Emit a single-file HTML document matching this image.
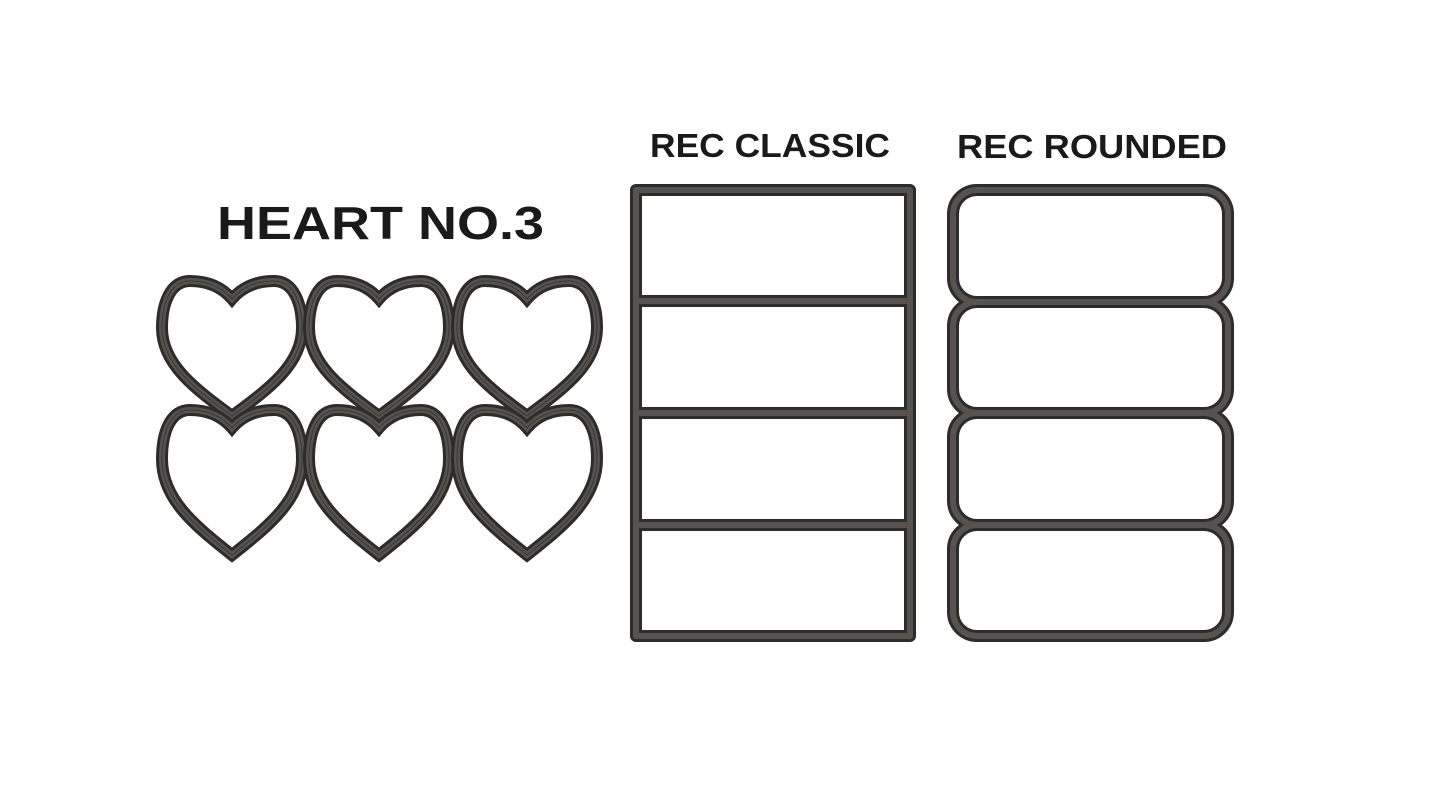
<!DOCTYPE html>
<html><head><meta charset="utf-8"><style>
html,body{margin:0;padding:0;background:#fff;}
svg{display:block;}
text{font-family:"Liberation Sans",sans-serif;font-weight:bold;fill:#1a1a1a;}
</style></head><body>
<svg width="1445" height="803" viewBox="0 0 1445 803">
<defs>
<path id="h" d="M0,17 C-12,3 -28,-1 -42,-1 C-62,-1 -70,22 -70,46 C-70,82 -38,106 0,134 C38,106 70,82 70,46 C70,22 62,-1 42,-1 C28,-1 12,3 0,17 Z"/>
<path id="h2" d="M0,17 C-12,3 -28,-1 -42,-1 C-62,-1 -70,22 -70,48 C-70,88 -38,114 0,144 C38,114 70,88 70,48 C70,22 62,-1 42,-1 C28,-1 12,3 0,17 Z"/>
<g id="hs"><use href="#h" stroke="#2e2c2a" stroke-width="12" fill="none"/><use href="#h" stroke="#55524f" stroke-width="6" fill="none"/><use href="#h" stroke="#3a3836" stroke-width="1" fill="none"/></g>
<g id="hs2"><use href="#h2" stroke="#2e2c2a" stroke-width="12" fill="none"/><use href="#h2" stroke="#55524f" stroke-width="6" fill="none"/><use href="#h2" stroke="#3a3836" stroke-width="1" fill="none"/></g>
</defs>
<text x="217" y="239" font-size="46" textLength="327" lengthAdjust="spacingAndGlyphs">HEART NO.3</text>
<text x="650" y="157" font-size="33" textLength="240" lengthAdjust="spacingAndGlyphs">REC CLASSIC</text>
<text x="957" y="158" font-size="33" textLength="270" lengthAdjust="spacingAndGlyphs">REC ROUNDED</text>
<g>
<use href="#hs" x="232" y="282"/><use href="#hs" x="379" y="282"/><use href="#hs" x="527" y="282"/>
<use href="#hs2" x="232" y="411"/><use href="#hs2" x="379" y="411"/><use href="#hs2" x="527" y="411"/>
</g>
<g fill="none" stroke-linejoin="round">
<g stroke="#2e2c2a" stroke-width="12">
<rect x="636" y="190" width="274" height="111"/><rect x="636" y="301" width="274" height="112"/><rect x="636" y="413" width="274" height="112"/><rect x="636" y="525" width="274" height="111"/>
<rect x="953" y="190" width="275" height="112" rx="24"/><rect x="953" y="302" width="275" height="111" rx="24"/><rect x="953" y="413" width="275" height="112" rx="24"/><rect x="953" y="525" width="275" height="111" rx="24"/>
</g>
<g stroke="#55524f" stroke-width="6">
<rect x="636" y="190" width="274" height="111"/><rect x="636" y="301" width="274" height="112"/><rect x="636" y="413" width="274" height="112"/><rect x="636" y="525" width="274" height="111"/>
<rect x="953" y="190" width="275" height="112" rx="24"/><rect x="953" y="302" width="275" height="111" rx="24"/><rect x="953" y="413" width="275" height="112" rx="24"/><rect x="953" y="525" width="275" height="111" rx="24"/>
</g>
</g>
</svg>
</body></html>
